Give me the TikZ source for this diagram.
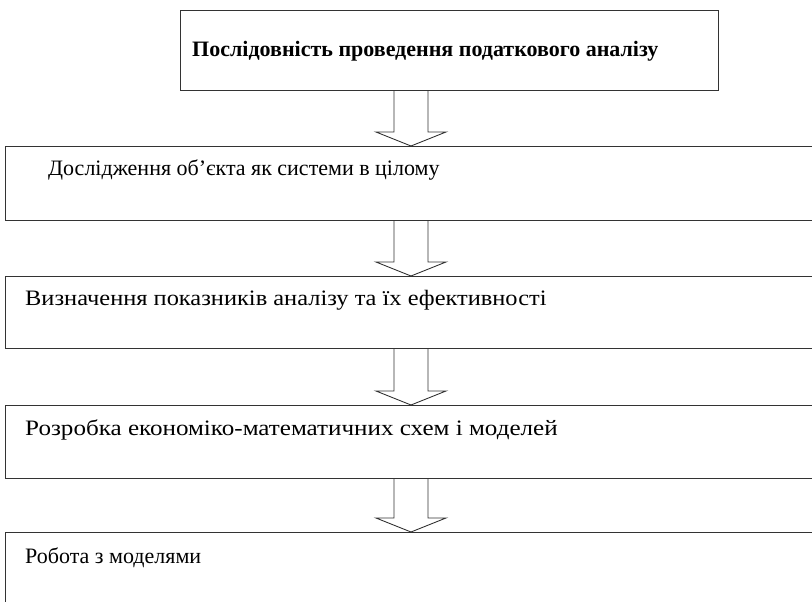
\documentclass[tikz,border=0pt]{standalone}
\usepackage{fontspec}
\setmainfont{Liberation Serif}
\usetikzlibrary{calc,positioning}

% hollow block arrow between two boxes, on the vertical line through (axis)
\newcommand{\hollowarrow}[2]{%
  \draw[arr] ($(axis |- #1.south)+(-17,0)$) -- ($(axis |- #2.north)+(-17,-14)$)
    -- ++(-18,0) -- (axis |- #2.north) -- ($(axis |- #2.north)+(35,-14)$)
    -- ++(-18,0) -- ($(axis |- #1.south)+(17,0)$);}

\begin{document}
\begin{tikzpicture}[x=1pt, y=-1pt,
    box/.style={draw=black!80, line width=1pt, rectangle, anchor=north west, inner sep=0pt},
    txt/.style={anchor=west, inner sep=0pt, font=\fontsize{22}{26}\selectfont},
    arr/.style={draw=black!80, line width=0.9pt, line join=miter}]
    \useasboundingbox (0,0) rectangle (812,602);
    \clip (0,0) rectangle (812,602);

    \node[box, minimum width=538pt, minimum height=80pt] (b1) at (180,10) {};
    \node[box, minimum width=850pt, minimum height=74pt] (b2) at (5,146) {};
    \node[box, minimum width=850pt, minimum height=72pt] (b3) at (5,276) {};
    \node[box, minimum width=850pt, minimum height=73pt] (b4) at (5,405) {};
    \node[box, minimum width=850pt, minimum height=100pt] (b5) at (5,532) {};

    \node[txt] (t1) at ($(b1.west)+(12,1)$) {\bfseries Послідовність проведення податкового аналізу};
    \node[txt] (t2) at ($(b2.north west)+(43,24)$) {Дослідження об’єкта як системи в цілому};
    \node[txt] (t3) at ($(b3.north west)+(20,24)$) {\scalebox{1.11}[1]{Визначення показників аналізу та їх ефективності}};
    \node[txt] (t4) at ($(b4.north west)+(20,25)$) {\scalebox{1.14}[1]{Розробка економіко-математичних схем і моделей}};
    \node[txt] (t5) at ($(b5.north west)+(20,26)$) {Робота з моделями};

    \coordinate (axis) at (411,0);
    \hollowarrow{b1}{b2}
    \hollowarrow{b2}{b3}
    \hollowarrow{b3}{b4}
    \hollowarrow{b4}{b5}
\end{tikzpicture}
\end{document}
